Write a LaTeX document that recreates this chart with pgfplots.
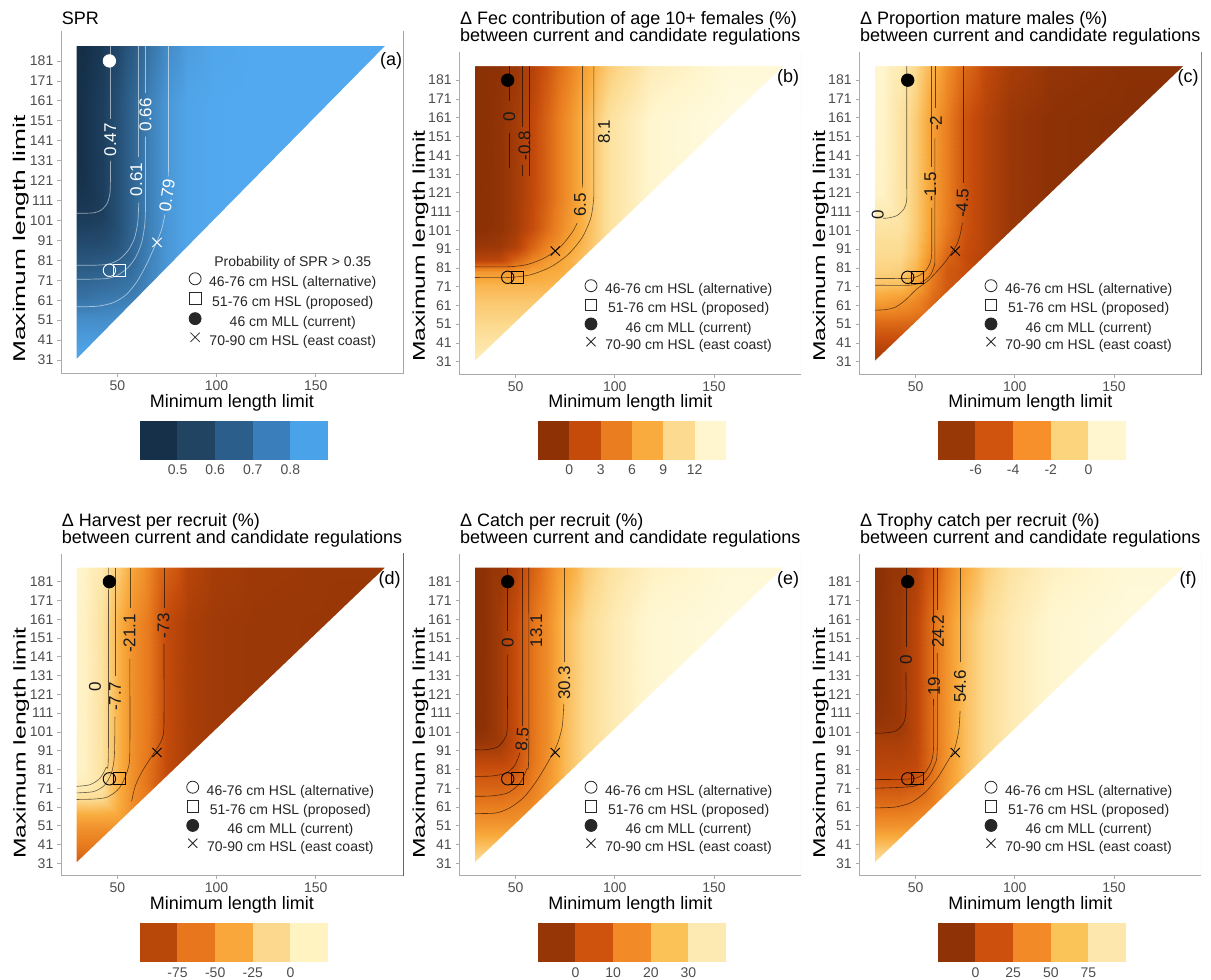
\documentclass[border=0pt]{standalone}
\usepackage{fontspec}
\setmainfont{Liberation Sans}
\usepackage{graphicx}
\usepackage{pgfplots}
\usepackage{pgfplotstable}
\pgfplotsset{compat=1.18}

\newcommand\tickfont{\fontsize{14}{16}\selectfont}
\newcommand\ttlfont{\fontsize{18}{20}\selectfont}
\newcommand\yfont{\fontsize{17}{19}\selectfont}
\newcommand\clabfont{\fontsize{17}{19}\selectfont}
\newcommand\legfont{\fontsize{14}{16}\selectfont}

\definecolor{axgray}{HTML}{ABABAB}
\definecolor{tickgray}{HTML}{4D4D4D}
\definecolor{cA1}{HTML}{17304A}\definecolor{cA2}{HTML}{214462}\definecolor{cA3}{HTML}{2C5E8B}\definecolor{cA4}{HTML}{3A7EBB}\definecolor{cA5}{HTML}{4AA2E8}
\definecolor{cB1}{HTML}{8E3206}\definecolor{cB2}{HTML}{C54B0B}\definecolor{cB3}{HTML}{E97D1F}\definecolor{cB4}{HTML}{F9AB3D}\definecolor{cB5}{HTML}{FCDB91}\definecolor{cB6}{HTML}{FFF6CF}
\definecolor{cC1}{HTML}{983806}\definecolor{cC2}{HTML}{D0540E}\definecolor{cC3}{HTML}{F7902A}\definecolor{cC4}{HTML}{FCD47E}\definecolor{cC5}{HTML}{FFF6CF}
\definecolor{cD1}{HTML}{B8470A}\definecolor{cD2}{HTML}{E8761C}\definecolor{cD3}{HTML}{F9A63B}\definecolor{cD4}{HTML}{FCD88E}\definecolor{cD5}{HTML}{FFF3C2}
\definecolor{cE1}{HTML}{963607}\definecolor{cE2}{HTML}{CF520D}\definecolor{cE3}{HTML}{F28B27}\definecolor{cE4}{HTML}{FBC257}\definecolor{cE5}{HTML}{FDE9B2}
\definecolor{cF1}{HTML}{8F3306}\definecolor{cF2}{HTML}{CD500D}\definecolor{cF3}{HTML}{F28A28}\definecolor{cF4}{HTML}{FBC459}\definecolor{cF5}{HTML}{FDE7AD}

\pgfplotsset{
 colormap={sprmap}{rgb255=(19,43,67) rgb255=(84,172,243)},
 colormap={ylorbr}{rgb255(0cm)=(125,42,5) rgb255(1cm)=(142,50,6) rgb255(3cm)=(197,75,11) rgb255(5cm)=(233,125,31) rgb255(7cm)=(249,171,61) rgb255(9cm)=(252,219,145) rgb255(11cm)=(255,246,207) rgb255(12cm)=(255,251,225)},
 panel/.style={
  anchor=south west, scale only axis, width=342pt, height=322pt,
  xmin=21.6, xmax=194, ymin=24.5, ymax=196,
  axis lines*=left, axis on top,
  axis line style={draw=axgray, line width=0.7pt},
  tick align=outside, major tick length=3.5pt,
  tick style={draw=axgray, line width=0.7pt},
  xtick={50,100,150}, ytick={31,41,...,181},
  /pgf/number format/assume math mode=true,
  ticklabel style={font=\tickfont, text=tickgray},
  xticklabel style={anchor=north, inner sep=0pt, yshift=-4pt},
  yticklabel style={anchor=east, inner sep=0pt, xshift=-4pt},
  legend cell align=center,
  legend image code/.code={\draw[##1] plot coordinates {(0pt,3.8pt)};},
  legend style={draw=none, fill=none, font=\legfont, row sep=3.6pt, column sep=8pt, inner sep=0pt, nodes={inner sep=0pt, text=black!85, font=\legfont}, anchor=north west, at={(axis description cs:0.367,0.2935)}},
 },
 legsym/.style={only marks, black!85, mark size=6pt, line width=0.8pt},
 cl/.style={smooth, tension=0.45, draw=black, draw opacity=0.6, line width=0.6pt, forget plot, mark=none},
 clw/.style={smooth, tension=0.45, draw=white, draw opacity=0.55, line width=0.7pt, forget plot, mark=none},
 heat/.style={matrix plot*, shader=interp, mesh/cols=11, point meta=explicit, forget plot},
 mask/.style={fill=white, draw=none, forget plot},
 mk/.style={only marks, forget plot, line width=0.9pt},
 cbar/.style={anchor=south west, scale only axis, width=188pt, xmin=0, ymin=0, ymax=1, axis y line=none, axis x line*=bottom, x axis line style={draw=none}, major tick length=0pt, tick style={draw=none}, xticklabel style={font=\tickfont, text=tickgray, anchor=north, inner sep=0pt, yshift=-5.5pt}},
}
\tikzset{clab/.style={font=\clabfont, inner sep=0pt, text=black!90}, plab/.style={font=\ttlfont, inner sep=0pt}}

\newcommand\legentries{%
\addlegendimage{legsym, mark=o}\addlegendentry{46-76 cm HSL (alternative)}
\addlegendimage{legsym, mark=square, mark size=5.8pt}\addlegendentry{51-76 cm HSL (proposed)}
\addlegendimage{legsym, mark=*}\addlegendentry{46 cm MLL (current)}
\addlegendimage{legsym, mark=x, mark size=6.5pt}\addlegendentry{70-90 cm HSL (east coast)}}
\newcommand\markers[1]{%
\addplot[mk, #1, mark=*, mark size=6.2pt] coordinates {(46,181)};
\addplot[mk, #1, mark=o, mark size=6.2pt] coordinates {(46,76)};
\addplot[mk, #1, mark=square, mark size=6pt] coordinates {(51,76)};
\addplot[mk, #1, mark=x, mark size=6.5pt] coordinates {(70,90)};}
% white everywhere outside the triangle of candidate regulations
\newcommand\maskplot{\addplot[mask] coordinates {(20,23) (20,198) (196,198) (196,23) (29.5,23) (29.5,31.5) (185,188.5) (29.5,188.5) (29.5,31.5) (29.5,23)} -- cycle;}

\pgfplotstableread[row sep=\\]{
x y v\\
29.5 30.5 0.89\\ 38 30.5 0.89\\ 46 30.5 0.89\\ 54 30.5 0.89\\ 62 30.5 0.89\\ 70 30.5 0.89\\ 80 30.5 0.89\\ 90 30.5 0.89\\ 105 30.5 0.89\\ 130 30.5 0.89\\ 186.5 30.5 0.89\\
29.5 45 0.86\\ 38 45 0.86\\ 46 45 0.86\\ 54 45 0.86\\ 62 45 0.86\\ 70 45 0.86\\ 80 45 0.86\\ 90 45 0.87\\ 105 45 0.885\\ 130 45 0.89\\ 186.5 45 0.89\\
29.5 58 0.78\\ 38 58 0.78\\ 46 58 0.78\\ 54 58 0.79\\ 62 58 0.81\\ 70 58 0.83\\ 80 58 0.84\\ 90 58 0.87\\ 105 58 0.885\\ 130 58 0.89\\ 186.5 58 0.89\\
29.5 68 0.67\\ 38 68 0.67\\ 46 68 0.69\\ 54 68 0.70\\ 62 68 0.72\\ 70 68 0.77\\ 80 68 0.82\\ 90 68 0.87\\ 105 68 0.885\\ 130 68 0.89\\ 186.5 68 0.89\\
29.5 76 0.62\\ 38 76 0.62\\ 46 76 0.63\\ 54 76 0.65\\ 62 76 0.68\\ 70 76 0.75\\ 80 76 0.82\\ 90 76 0.87\\ 105 76 0.885\\ 130 76 0.89\\ 186.5 76 0.89\\
29.5 84 0.57\\ 38 84 0.57\\ 46 84 0.58\\ 54 84 0.60\\ 62 84 0.65\\ 70 84 0.74\\ 80 84 0.82\\ 90 84 0.87\\ 105 84 0.885\\ 130 84 0.89\\ 186.5 84 0.89\\
29.5 92 0.53\\ 38 92 0.53\\ 46 92 0.53\\ 54 92 0.56\\ 62 92 0.64\\ 70 92 0.73\\ 80 92 0.82\\ 90 92 0.87\\ 105 92 0.885\\ 130 92 0.89\\ 186.5 92 0.89\\
29.5 100 0.49\\ 38 100 0.49\\ 46 100 0.50\\ 54 100 0.54\\ 62 100 0.63\\ 70 100 0.73\\ 80 100 0.82\\ 90 100 0.87\\ 105 100 0.885\\ 130 100 0.89\\ 186.5 100 0.89\\
29.5 110 0.455\\ 38 110 0.455\\ 46 110 0.47\\ 54 110 0.54\\ 62 110 0.63\\ 70 110 0.73\\ 80 110 0.82\\ 90 110 0.87\\ 105 110 0.885\\ 130 110 0.89\\ 186.5 110 0.89\\
29.5 130 0.42\\ 38 130 0.43\\ 46 130 0.47\\ 54 130 0.54\\ 62 130 0.63\\ 70 130 0.73\\ 80 130 0.82\\ 90 130 0.87\\ 105 130 0.885\\ 130 130 0.89\\ 186.5 130 0.89\\
29.5 188.5 0.40\\ 38 188.5 0.43\\ 46 188.5 0.47\\ 54 188.5 0.54\\ 62 188.5 0.63\\ 70 188.5 0.73\\ 80 188.5 0.82\\ 90 188.5 0.87\\ 105 188.5 0.885\\ 130 188.5 0.89\\ 186.5 188.5 0.89\\
}\tabA

\pgfplotstableread[row sep=\\]{
x y v\\
29.5 30.5 13.5\\ 38 30.5 13.5\\ 46 30.5 13.5\\ 54 30.5 13.5\\ 62 30.5 13.5\\ 70 30.5 13.5\\ 80 30.5 13.5\\ 90 30.5 13.5\\ 105 30.5 13.5\\ 130 30.5 13.5\\ 186.5 30.5 15\\
29.5 45 11.8\\ 38 45 11.8\\ 46 45 11.8\\ 54 45 11.8\\ 62 45 11.8\\ 70 45 11.8\\ 80 45 11.8\\ 90 45 11.8\\ 105 45 11.8\\ 130 45 13.5\\ 186.5 45 15\\
29.5 58 10.3\\ 38 58 10.3\\ 46 58 10.3\\ 54 58 10.3\\ 62 58 10.3\\ 70 58 10.3\\ 80 58 10.3\\ 90 58 10.3\\ 105 58 11.2\\ 130 58 13.5\\ 186.5 58 15\\
29.5 68 9.3\\ 38 68 9.3\\ 46 68 9.3\\ 54 68 9.3\\ 62 68 9.3\\ 70 68 9.3\\ 80 68 9.3\\ 90 68 9.3\\ 105 68 11.2\\ 130 68 13.5\\ 186.5 68 15\\
29.5 76 8.1\\ 38 76 8.1\\ 46 76 8.1\\ 54 76 8.1\\ 62 76 8.1\\ 70 76 8.1\\ 80 76 8.1\\ 90 76 8.5\\ 105 76 11.2\\ 130 76 13.5\\ 186.5 76 15\\
29.5 82 6.3\\ 38 82 6.3\\ 46 82 6.3\\ 54 82 6.5\\ 62 82 7.0\\ 70 82 7.5\\ 80 82 7.8\\ 90 82 8.6\\ 105 82 11.2\\ 130 82 13.5\\ 186.5 82 15\\
29.5 88 0.8\\ 38 88 0.8\\ 46 88 1.0\\ 54 88 3.0\\ 62 88 5.0\\ 70 88 6.3\\ 80 88 7.5\\ 90 88 9.0\\ 105 88 11.2\\ 130 88 13.5\\ 186.5 88 15\\
29.5 96 -0.8\\ 38 96 -0.8\\ 46 96 -0.6\\ 54 96 0.5\\ 62 96 3.0\\ 70 96 5.0\\ 80 96 6.8\\ 90 96 8.5\\ 105 96 11.2\\ 130 96 13.5\\ 186.5 96 15\\
29.5 108 -1.8\\ 38 108 -1.7\\ 46 108 -1.3\\ 54 108 -0.3\\ 62 108 1.5\\ 70 108 3.5\\ 80 108 6.0\\ 90 108 8.2\\ 105 108 11.2\\ 130 108 13.5\\ 186.5 108 15\\
29.5 130 -1.8\\ 38 130 -1.7\\ 46 130 -1.3\\ 54 130 -0.3\\ 62 130 1.2\\ 70 130 3.0\\ 80 130 5.4\\ 90 130 8.1\\ 105 130 11.2\\ 130 130 13.5\\ 186.5 130 15\\
29.5 188.5 -1.8\\ 38 188.5 -1.7\\ 46 188.5 -1.3\\ 54 188.5 -0.3\\ 62 188.5 1.2\\ 70 188.5 3.0\\ 80 188.5 5.4\\ 90 188.5 8.1\\ 105 188.5 11.2\\ 130 188.5 13.5\\ 186.5 188.5 15\\
}\tabB

\pgfplotstableread[row sep=\\]{
x y v\\
29.5 30.5 -7\\ 38 30.5 -7\\ 46 30.5 -7\\ 54 30.5 -7\\ 62 30.5 -7\\ 70 30.5 -7\\ 80 30.5 -7\\ 90 30.5 -7\\ 105 30.5 -7\\ 130 30.5 -7.2\\ 186.5 30.5 -7.4\\
29.5 45 -6\\ 38 45 -6\\ 46 45 -6\\ 54 45 -6\\ 62 45 -6\\ 70 45 -6\\ 80 45 -6\\ 90 45 -6\\ 105 45 -6.8\\ 130 45 -7.2\\ 186.5 45 -7.4\\
29.5 58 -4.5\\ 38 58 -4.5\\ 46 58 -4.5\\ 54 58 -4.6\\ 62 58 -4.8\\ 70 58 -5.2\\ 80 58 -5.4\\ 90 58 -6\\ 105 58 -6.8\\ 130 58 -7.2\\ 186.5 58 -7.4\\
29.5 68 -2.7\\ 38 68 -2.7\\ 46 68 -3.0\\ 54 68 -3.5\\ 62 68 -4.5\\ 70 68 -5.2\\ 80 68 -5.5\\ 90 68 -6\\ 105 68 -6.8\\ 130 68 -7.2\\ 186.5 68 -7.4\\
29.5 76 -1.4\\ 38 76 -1.4\\ 46 76 -1.5\\ 54 76 -2.5\\ 62 76 -4.0\\ 70 76 -5.0\\ 80 76 -5.4\\ 90 76 -6\\ 105 76 -6.8\\ 130 76 -7.2\\ 186.5 76 -7.4\\
29.5 84 -0.8\\ 38 84 -0.8\\ 46 84 -0.9\\ 54 84 -1.9\\ 62 84 -3.8\\ 70 84 -5.0\\ 80 84 -5.4\\ 90 84 -6\\ 105 84 -6.8\\ 130 84 -7.2\\ 186.5 84 -7.4\\
29.5 92 -0.5\\ 38 92 -0.5\\ 46 92 -0.5\\ 54 92 -1.4\\ 62 92 -3.2\\ 70 92 -4.6\\ 80 92 -5.5\\ 90 92 -6\\ 105 92 -6.8\\ 130 92 -7.2\\ 186.5 92 -7.4\\
29.5 100 -0.3\\ 38 100 -0.3\\ 46 100 -0.3\\ 54 100 -1.2\\ 62 100 -2.8\\ 70 100 -4.2\\ 80 100 -5.3\\ 90 100 -6\\ 105 100 -6.8\\ 130 100 -7.2\\ 186.5 100 -7.4\\
29.5 110 0.1\\ 38 110 0.1\\ 46 110 0.0\\ 54 110 -1.1\\ 62 110 -2.6\\ 70 110 -3.9\\ 80 110 -5.2\\ 90 110 -6\\ 105 110 -6.8\\ 130 110 -7.2\\ 186.5 110 -7.4\\
29.5 130 0.9\\ 38 130 0.9\\ 46 130 0.0\\ 54 130 -1.1\\ 62 130 -2.6\\ 70 130 -3.8\\ 80 130 -5.2\\ 90 130 -6\\ 105 130 -6.8\\ 130 130 -7.2\\ 186.5 130 -7.4\\
29.5 188.5 1.2\\ 38 188.5 1.0\\ 46 188.5 0.0\\ 54 188.5 -1.1\\ 62 188.5 -2.6\\ 70 188.5 -3.8\\ 80 188.5 -5.2\\ 90 188.5 -6\\ 105 188.5 -6.8\\ 130 188.5 -7.2\\ 186.5 188.5 -7.4\\
}\tabC

\pgfplotstableread[row sep=\\]{
x y v\\
29.5 30.5 -90\\ 38 30.5 -90\\ 46 30.5 -90\\ 54 30.5 -90\\ 62 30.5 -90\\ 70 30.5 -90\\ 80 30.5 -90\\ 90 30.5 -95\\ 105 30.5 -100\\ 130 30.5 -102\\ 186.5 30.5 -103\\
29.5 45 -65\\ 38 45 -65\\ 46 45 -65\\ 54 45 -65\\ 62 45 -65\\ 70 45 -65\\ 80 45 -85\\ 90 45 -95\\ 105 45 -100\\ 130 45 -102\\ 186.5 45 -103\\
29.5 54 -50\\ 38 54 -50\\ 46 54 -50\\ 54 54 -50\\ 62 54 -52\\ 70 54 -64\\ 80 54 -85\\ 90 54 -95\\ 105 54 -100\\ 130 54 -102\\ 186.5 54 -103\\
29.5 62 -33\\ 38 62 -33\\ 46 62 -33\\ 54 62 -36\\ 62 62 -52\\ 70 62 -64\\ 80 62 -85\\ 90 62 -95\\ 105 62 -100\\ 130 62 -102\\ 186.5 62 -103\\
29.5 68 -10\\ 38 68 -10\\ 46 68 -12\\ 54 68 -32\\ 62 68 -52\\ 70 68 -64\\ 80 68 -85\\ 90 68 -95\\ 105 68 -100\\ 130 68 -102\\ 186.5 68 -103\\
29.5 72 0\\ 38 72 0\\ 46 72 -6\\ 54 72 -32\\ 62 72 -51\\ 70 72 -64\\ 80 72 -85\\ 90 72 -95\\ 105 72 -100\\ 130 72 -102\\ 186.5 72 -103\\
29.5 76 5\\ 38 76 5\\ 46 76 -5\\ 54 76 -31\\ 62 76 -51\\ 70 76 -66\\ 80 76 -85\\ 90 76 -95\\ 105 76 -100\\ 130 76 -102\\ 186.5 76 -103\\
29.5 84 9\\ 38 84 8\\ 46 84 -5\\ 54 84 -30\\ 62 84 -50\\ 70 84 -65\\ 80 84 -85\\ 90 84 -95\\ 105 84 -100\\ 130 84 -102\\ 186.5 84 -103\\
29.5 100 11\\ 38 100 8\\ 46 100 -5\\ 54 100 -30\\ 62 100 -50\\ 70 100 -63\\ 80 100 -85\\ 90 100 -95\\ 105 100 -100\\ 130 100 -102\\ 186.5 100 -103\\
29.5 130 12\\ 38 130 8\\ 46 130 -5\\ 54 130 -30\\ 62 130 -50\\ 70 130 -62\\ 80 130 -85\\ 90 130 -95\\ 105 130 -100\\ 130 130 -102\\ 186.5 130 -103\\
29.5 188.5 12\\ 38 188.5 8\\ 46 188.5 -5\\ 54 188.5 -30\\ 62 188.5 -50\\ 70 188.5 -62\\ 80 188.5 -85\\ 90 188.5 -95\\ 105 188.5 -100\\ 130 188.5 -102\\ 186.5 188.5 -103\\
}\tabD

\pgfplotstableread[row sep=\\]{
x y v\\
29.5 30.5 38\\ 38 30.5 38\\ 46 30.5 38\\ 54 30.5 38\\ 62 30.5 38\\ 70 30.5 38\\ 80 30.5 38\\ 90 30.5 38\\ 105 30.5 38\\ 130 30.5 41\\ 186.5 30.5 44\\
29.5 45 28\\ 38 45 28\\ 46 45 28\\ 54 45 28\\ 62 45 28\\ 70 45 28\\ 80 45 28\\ 90 45 31\\ 105 45 36\\ 130 45 41\\ 186.5 45 44\\
29.5 58 18\\ 38 58 18\\ 46 58 18\\ 54 58 18\\ 62 58 19\\ 70 58 21\\ 80 58 26\\ 90 58 31\\ 105 58 36\\ 130 58 41\\ 186.5 58 44\\
29.5 68 12\\ 38 68 12\\ 46 68 12\\ 54 68 13\\ 62 68 15\\ 70 68 19\\ 80 68 25\\ 90 68 31\\ 105 68 36\\ 130 68 41\\ 186.5 68 44\\
29.5 76 8\\ 38 76 8\\ 46 76 8\\ 54 76 9.5\\ 62 76 13\\ 70 76 18\\ 80 76 25\\ 90 76 31\\ 105 76 36\\ 130 76 41\\ 186.5 76 44\\
29.5 84 5\\ 38 84 5\\ 46 84 5\\ 54 84 6\\ 62 84 12\\ 70 84 17\\ 80 84 25\\ 90 84 31\\ 105 84 36\\ 130 84 41\\ 186.5 84 44\\
29.5 92 1\\ 38 92 1\\ 46 92 1\\ 54 92 4.5\\ 62 92 11\\ 70 92 16.5\\ 80 92 25\\ 90 92 31\\ 105 92 36\\ 130 92 41\\ 186.5 92 44\\
29.5 100 -4\\ 38 100 -4\\ 46 100 -2\\ 54 100 4\\ 62 100 11\\ 70 100 16\\ 80 100 25\\ 90 100 31\\ 105 100 36\\ 130 100 41\\ 186.5 100 44\\
29.5 110 -6\\ 38 110 -6\\ 46 110 -2\\ 54 110 4\\ 62 110 11\\ 70 110 16\\ 80 110 25\\ 90 110 31\\ 105 110 36\\ 130 110 41\\ 186.5 110 44\\
29.5 130 -6\\ 38 130 -6\\ 46 130 -2\\ 54 130 4\\ 62 130 11\\ 70 130 16\\ 80 130 25\\ 90 130 31\\ 105 130 36\\ 130 130 41\\ 186.5 130 44\\
29.5 188.5 -6\\ 38 188.5 -6\\ 46 188.5 -2\\ 54 188.5 4\\ 62 188.5 11\\ 70 188.5 16\\ 80 188.5 25\\ 90 188.5 31\\ 105 188.5 36\\ 130 188.5 41\\ 186.5 188.5 44\\
}\tabE

\pgfplotstableread[row sep=\\]{
x y v\\
29.5 30.5 95\\ 38 30.5 95\\ 46 30.5 95\\ 54 30.5 95\\ 62 30.5 95\\ 70 30.5 95\\ 80 30.5 95\\ 90 30.5 95\\ 105 30.5 95\\ 130 30.5 101\\ 186.5 30.5 109\\
29.5 45 71\\ 38 45 71\\ 46 45 71\\ 54 45 71\\ 62 45 71\\ 70 45 71\\ 80 45 71\\ 90 45 78\\ 105 45 90\\ 130 45 101\\ 186.5 45 109\\
29.5 58 42\\ 38 58 42\\ 46 58 42\\ 54 58 43\\ 62 58 46\\ 70 58 50\\ 80 58 64\\ 90 58 78\\ 105 58 90\\ 130 58 101\\ 186.5 58 109\\
29.5 68 24\\ 38 68 24\\ 46 68 24\\ 54 68 28\\ 62 68 33\\ 70 68 47\\ 80 68 64\\ 90 68 78\\ 105 68 90\\ 130 68 101\\ 186.5 68 109\\
29.5 76 14\\ 38 76 14\\ 46 76 14\\ 54 76 17\\ 62 76 30\\ 70 76 47\\ 80 76 64\\ 90 76 78\\ 105 76 90\\ 130 76 101\\ 186.5 76 109\\
29.5 84 6\\ 38 84 6\\ 46 84 7\\ 54 84 9\\ 62 84 27\\ 70 84 45\\ 80 84 64\\ 90 84 78\\ 105 84 90\\ 130 84 101\\ 186.5 84 109\\
29.5 92 2\\ 38 92 2\\ 46 92 2\\ 54 92 6\\ 62 92 26\\ 70 92 44\\ 80 92 64\\ 90 92 78\\ 105 92 90\\ 130 92 101\\ 186.5 92 109\\
29.5 100 -2\\ 38 100 -2\\ 46 100 -2\\ 54 100 5\\ 62 100 26\\ 70 100 44\\ 80 100 64\\ 90 100 78\\ 105 100 90\\ 130 100 101\\ 186.5 100 109\\
29.5 110 -10\\ 38 110 -10\\ 46 110 -7\\ 54 110 5\\ 62 110 26\\ 70 110 44\\ 80 110 64\\ 90 110 78\\ 105 110 90\\ 130 110 101\\ 186.5 110 109\\
29.5 130 -14\\ 38 130 -13\\ 46 130 -7\\ 54 130 5\\ 62 130 26\\ 70 130 44\\ 80 130 64\\ 90 130 78\\ 105 130 90\\ 130 130 101\\ 186.5 130 109\\
29.5 188.5 -14\\ 38 188.5 -13\\ 46 188.5 -7\\ 54 188.5 5\\ 62 188.5 26\\ 70 188.5 44\\ 80 188.5 64\\ 90 188.5 78\\ 105 188.5 90\\ 130 188.5 101\\ 186.5 188.5 109\\
}\tabF

\begin{document}
\begin{tikzpicture}
\useasboundingbox (0pt,0pt) rectangle (1211pt,-980pt);

%% ---------------- Panel (a)
\begin{axis}[panel, at={(61pt,-373pt)}, height=342pt, colormap name=sprmap, point meta min=0.4, point meta max=0.9, legend style={row sep=4.4pt, at={(axis description cs:0.374,0.3405)}}]
\addplot[heat] table[x=x,y=y,meta=v]{\tabA};
\maskplot
\addplot[clw] coordinates {(29.5,104.6) (38,104.8) (42,106.3) (44.8,109.5) (46.2,114) (46.5,120) (46.5,131)};
\addplot[clw] coordinates {(46.5,152) (46.5,188.5)};
\addplot[clw] coordinates {(29.5,78.5) (40,78.6) (46,79.2) (51,81.5) (55.5,86) (58.6,92) (60.3,100) (60.8,110)};
\addplot[clw] coordinates {(60.8,133) (60.8,188.5)};
\addplot[clw] coordinates {(29.5,71.5) (44,71.8) (50,73.5) (55.5,77.5) (59.5,83) (62.3,90) (63.7,98) (64.2,108) (64.2,143)};
\addplot[clw] coordinates {(64.2,165) (64.2,188.5)};
\addplot[clw] coordinates {(29.5,57.7) (40,58) (48,59.8) (54.5,63.8) (60,70.5) (64.5,78.5) (67.5,85) (70,90.5) (72.5,97) (74,104)};
\addplot[clw] coordinates {(75.7,123) (75.8,135) (75.8,188.5)};
\node[clab, text=white, rotate=90] at (axis cs:46.5,141.5) {0.47};
\node[clab, text=white, rotate=90] at (axis cs:59.6,121.5) {0.61};
\node[clab, text=white, rotate=90] at (axis cs:64.2,154) {0.66};
\node[clab, text=white, rotate=82] at (axis cs:75.1,113.5) {0.79};
\markers{white}
\node[plab] at (axis cs:188,181) {(a)};
\addlegendimage{empty legend}\addlegendentry{Probability of SPR > 0.35}
\legentries
\end{axis}

%% ---------------- Panel (b)
\begin{axis}[panel, at={(459.3pt,-374pt)}, colormap name=ylorbr, point meta min=-3, point meta max=15]
\addplot[heat] table[x=x,y=y,meta=v]{\tabB};
\maskplot
\addplot[cl] coordinates {(46.6,188.5) (46.6,170)};
\addplot[cl] coordinates {(46.6,153) (46.6,134)};
\node[clab, rotate=90] at (axis cs:46.8,161.5) {0};
\addplot[cl] coordinates {(53.5,188.5) (53.5,156)};
\addplot[cl] coordinates {(53.5,136) (53.5,130)};
\addplot[cl] coordinates {(57,188.5) (57,130)};
\node[clab, rotate=90] at (axis cs:54.5,146) {-0.8};
\addplot[cl] coordinates {(29.5,81.6) (46.4,81.6) (56.05,82.87) (65.05,86.6) (72.8,92.5) (78.7,100.25) (80.98,104.9)};
\addplot[cl] coordinates {(83.6,124) (83.7,130) (83.7,188.5)};
\node[clab, rotate=90] at (axis cs:82.4,114.5) {6.5};
\addplot[cl] coordinates {(29.5,75.9) (46.4,75.9) (57.53,77.37) (67.9,81.66) (76.8,88.5) (83.64,97.4) (87.93,107.77) (89.4,118.9) (89.4,130) (89.4,188.5)};
\node[clab, rotate=90] at (axis cs:94.5,153.5) {8.1};
\markers{black}
\node[plab] at (axis cs:187.3,182) {(b)};
\legentries
\end{axis}

%% ---------------- Panel (c)
\begin{axis}[panel, at={(859.3pt,-374pt)}, colormap name=ylorbr, point meta min=-8, point meta max=2]
\addplot[heat] table[x=x,y=y,meta=v]{\tabC};
\maskplot
\addplot[cl] coordinates {(33.5,107.5) (35.5,107.5) (40.5,108.84) (44.16,112.5) (45.5,117.5) (45.5,130) (45.5,188.5)};
\node[clab, rotate=90] at (axis cs:30.9,109.5) {0};
\addplot[cl] coordinates {(29.5,75.4) (46,75.4) (51,76.5) (55,79.5) (57.4,84) (58.1,90) (58.1,113)};
\addplot[cl] coordinates {(58.1,135) (58.1,188.5)};
\node[clab, rotate=90] at (axis cs:57.4,124) {-1.5};
\addplot[cl] coordinates {(29.5,71.8) (47,71.8) (53,73.3) (57.3,77) (59.3,82) (59.7,88) (59.7,150)};
\addplot[cl] coordinates {(59.7,166) (59.7,188.5)};
\node[clab, rotate=90] at (axis cs:60.2,158) {-2};
\addplot[cl] coordinates {(74,188.5) (74,126)};
\addplot[cl] coordinates {(73.6,105) (72.5,99) (71,94) (69,90.5) (65.5,85) (61.5,80) (56,74) (50.5,69.7) (45,64) (40,60.2) (35,58.8) (29.5,58.5)};
\node[clab, rotate=88] at (axis cs:73.6,115.5) {-4.5};
\markers{black}
\node[plab] at (axis cs:187.3,182) {(c)};
\legentries
\end{axis}

%% ---------------- Panel (d)
\begin{axis}[panel, at={(61pt,-875.5pt)}, colormap name=ylorbr, point meta min=-120, point meta max=25]
\addplot[heat] table[x=x,y=y,meta=v]{\tabD};
\maskplot
\addplot[cl] coordinates {(45.5,188.5) (45.5,90) (44.3,82) (41,76) (36,72.8) (29.5,72)};
\node[clab, rotate=90] at (axis cs:38.7,125) {0};
\addplot[cl] coordinates {(48.8,188.5) (48.8,131)};
\addplot[cl] coordinates {(48.8,109) (48.5,88) (47,79) (43.5,72.5) (38,69.2) (29.5,68.5)};
\node[clab, rotate=90] at (axis cs:48.8,120) {-7.7};
\addplot[cl] coordinates {(56.3,188.5) (56.3,167)};
\addplot[cl] coordinates {(56.3,140) (56.3,90) (55,80) (51,71) (45,66.3) (38,65.2) (29.5,65)};
\node[clab, rotate=90] at (axis cs:56.1,153.5) {-21.1};
\addplot[cl] coordinates {(73.5,188.5) (73.5,167)};
\addplot[cl] coordinates {(73.5,148) (73.5,105) (72.5,97) (69,90.6) (65.5,85) (62,79) (59,72) (57.2,64)};
\node[clab, rotate=90] at (axis cs:73.3,157.5) {-73};
\markers{black}
\node[plab] at (axis cs:187.3,182) {(d)};
\legentries
\end{axis}

%% ---------------- Panel (e)
\begin{axis}[panel, at={(459.3pt,-875.5pt)}, colormap name=ylorbr, point meta min=-10, point meta max=45]
\addplot[heat] table[x=x,y=y,meta=v]{\tabE};
\maskplot
\addplot[cl] coordinates {(45.8,188.5) (45.8,155)};
\addplot[cl] coordinates {(45.8,142) (45.8,104) (44.5,97.5) (41,93) (35,91.5) (29.5,91.5)};
\node[clab, rotate=90] at (axis cs:46,148.5) {0};
\addplot[cl] coordinates {(53.3,188.5) (53.3,104)};
\addplot[cl] coordinates {(52.2,90) (49.5,83) (45,79) (38,77.5) (29.5,77.3)};
\node[clab, rotate=85] at (axis cs:53.2,97) {8.5};
\addplot[cl] coordinates {(56.6,188.5) (56.6,90) (55.5,81) (52,73.5) (46,68.5) (38,66.9) (29.5,66.7)};
\node[clab, rotate=90] at (axis cs:60.4,155) {13.1};
\addplot[cl] coordinates {(74.3,188.5) (74.3,138)};
\addplot[cl] coordinates {(74.3,116) (73.5,104) (71.5,96) (69.5,91) (65,82.5) (60,74) (54,66) (47,60.5) (40,57.8) (29.5,57.5)};
\node[clab, rotate=90] at (axis cs:74.5,127) {30.3};
\markers{black}
\node[plab] at (axis cs:187.3,182) {(e)};
\legentries
\end{axis}

%% ---------------- Panel (f)
\begin{axis}[panel, at={(859.3pt,-875.5pt)}, colormap name=ylorbr, point meta min=-25, point meta max=112]
\addplot[heat] table[x=x,y=y,meta=v]{\tabF};
\maskplot
\addplot[cl] coordinates {(45.1,188.5) (45.1,146)};
\addplot[cl] coordinates {(45.1,133) (45.1,112) (43.8,105.5) (40,101.5) (34,100.4) (29.5,100.4)};
\node[clab, rotate=90] at (axis cs:45.1,139.5) {0};
\addplot[cl] coordinates {(59,188.5) (59,132)};
\addplot[cl] coordinates {(59,118.5) (59,92) (57.5,84) (54,78.5) (48,76) (29.5,75.6)};
\node[clab, rotate=90] at (axis cs:59.2,125.2) {19};
\addplot[cl] coordinates {(60.9,188.5) (60.9,166)};
\addplot[cl] coordinates {(60.9,143) (60.9,92) (59.4,83) (55.5,76) (49,72) (29.5,71)};
\node[clab, rotate=90] at (axis cs:61.3,154.5) {24.2};
\addplot[cl] coordinates {(72.4,188.5) (72.4,138)};
\addplot[cl] coordinates {(72.4,112) (71.8,102) (70.2,94) (69,90.5) (66,85) (61,76.5) (55,69) (48,63.5) (40,61) (29.5,60.5)};
\node[clab, rotate=90] at (axis cs:72.4,125.2) {54.6};
\markers{black}
\node[plab] at (axis cs:187.3,182) {(f)};
\legentries
\end{axis}

%% ---------------- Colour bars
\begin{axis}[cbar, at={(140pt,-459.3pt)}, height=38.6pt, xmax=5, xtick={1,2,3,4}, xticklabels={0.5,0.6,0.7,0.8}]
\addplot[fill=cA1, draw=cA1, line width=0.3pt] coordinates {(0,1) (1,1)} \closedcycle;
\addplot[fill=cA2, draw=cA2, line width=0.3pt] coordinates {(1,1) (2,1)} \closedcycle;
\addplot[fill=cA3, draw=cA3, line width=0.3pt] coordinates {(2,1) (3,1)} \closedcycle;
\addplot[fill=cA4, draw=cA4, line width=0.3pt] coordinates {(3,1) (4,1)} \closedcycle;
\addplot[fill=cA5, draw=cA5, line width=0.3pt] coordinates {(4,1) (5,1)} \closedcycle;
\end{axis}
\begin{axis}[cbar, at={(538pt,-459.3pt)}, height=38.6pt, xmax=6, xtick={1,2,3,4,5}, xticklabels={0,3,6,9,12}]
\addplot[fill=cB1, draw=cB1, line width=0.3pt] coordinates {(0,1) (1,1)} \closedcycle;
\addplot[fill=cB2, draw=cB2, line width=0.3pt] coordinates {(1,1) (2,1)} \closedcycle;
\addplot[fill=cB3, draw=cB3, line width=0.3pt] coordinates {(2,1) (3,1)} \closedcycle;
\addplot[fill=cB4, draw=cB4, line width=0.3pt] coordinates {(3,1) (4,1)} \closedcycle;
\addplot[fill=cB5, draw=cB5, line width=0.3pt] coordinates {(4,1) (5,1)} \closedcycle;
\addplot[fill=cB6, draw=cB6, line width=0.3pt] coordinates {(5,1) (6,1)} \closedcycle;
\end{axis}
\begin{axis}[cbar, at={(938pt,-459.3pt)}, height=38.6pt, xmax=5, xtick={1,2,3,4}, xticklabels={-6,-4,-2,0}]
\addplot[fill=cC1, draw=cC1, line width=0.3pt] coordinates {(0,1) (1,1)} \closedcycle;
\addplot[fill=cC2, draw=cC2, line width=0.3pt] coordinates {(1,1) (2,1)} \closedcycle;
\addplot[fill=cC3, draw=cC3, line width=0.3pt] coordinates {(2,1) (3,1)} \closedcycle;
\addplot[fill=cC4, draw=cC4, line width=0.3pt] coordinates {(3,1) (4,1)} \closedcycle;
\addplot[fill=cC5, draw=cC5, line width=0.3pt] coordinates {(4,1) (5,1)} \closedcycle;
\end{axis}
\begin{axis}[cbar, at={(140pt,-961.7pt)}, height=39pt, xmax=5, xtick={1,2,3,4}, xticklabels={-75,-50,-25,0}]
\addplot[fill=cD1, draw=cD1, line width=0.3pt] coordinates {(0,1) (1,1)} \closedcycle;
\addplot[fill=cD2, draw=cD2, line width=0.3pt] coordinates {(1,1) (2,1)} \closedcycle;
\addplot[fill=cD3, draw=cD3, line width=0.3pt] coordinates {(2,1) (3,1)} \closedcycle;
\addplot[fill=cD4, draw=cD4, line width=0.3pt] coordinates {(3,1) (4,1)} \closedcycle;
\addplot[fill=cD5, draw=cD5, line width=0.3pt] coordinates {(4,1) (5,1)} \closedcycle;
\end{axis}
\begin{axis}[cbar, at={(538pt,-961.7pt)}, height=39pt, xmax=5, xtick={1,2,3,4}, xticklabels={0,10,20,30}]
\addplot[fill=cE1, draw=cE1, line width=0.3pt] coordinates {(0,1) (1,1)} \closedcycle;
\addplot[fill=cE2, draw=cE2, line width=0.3pt] coordinates {(1,1) (2,1)} \closedcycle;
\addplot[fill=cE3, draw=cE3, line width=0.3pt] coordinates {(2,1) (3,1)} \closedcycle;
\addplot[fill=cE4, draw=cE4, line width=0.3pt] coordinates {(3,1) (4,1)} \closedcycle;
\addplot[fill=cE5, draw=cE5, line width=0.3pt] coordinates {(4,1) (5,1)} \closedcycle;
\end{axis}
\begin{axis}[cbar, at={(938pt,-961.7pt)}, height=39pt, xmax=5, xtick={1,2,3,4}, xticklabels={0,25,50,75}]
\addplot[fill=cF1, draw=cF1, line width=0.3pt] coordinates {(0,1) (1,1)} \closedcycle;
\addplot[fill=cF2, draw=cF2, line width=0.3pt] coordinates {(1,1) (2,1)} \closedcycle;
\addplot[fill=cF3, draw=cF3, line width=0.3pt] coordinates {(2,1) (3,1)} \closedcycle;
\addplot[fill=cF4, draw=cF4, line width=0.3pt] coordinates {(3,1) (4,1)} \closedcycle;
\addplot[fill=cF5, draw=cF5, line width=0.3pt] coordinates {(4,1) (5,1)} \closedcycle;
\end{axis}

%% ---------------- Titles
\node[anchor=base west, plab] at (61.7pt,-24pt) {SPR};
\node[anchor=base west, plab] at (460pt,-24.5pt) {Δ Fec contribution of age 10+ females (\%)};
\node[anchor=base west, plab] at (460pt,-41pt) {between current and candidate regulations};
\node[anchor=base west, plab] at (860pt,-24.5pt) {Δ Proportion mature males (\%)};
\node[anchor=base west, plab] at (860pt,-41pt) {between current and candidate regulations};
\node[anchor=base west, plab] at (61.7pt,-526.5pt) {Δ Harvest per recruit (\%)};
\node[anchor=base west, plab] at (61.7pt,-543pt) {between current and candidate regulations};
\node[anchor=base west, plab] at (460pt,-526.5pt) {Δ Catch per recruit (\%)};
\node[anchor=base west, plab] at (460pt,-543pt) {between current and candidate regulations};
\node[anchor=base west, plab] at (860pt,-526.5pt) {Δ Trophy catch per recruit (\%)};
\node[anchor=base west, plab] at (860pt,-543pt) {between current and candidate regulations};

%% ---------------- Axis titles
\node[anchor=base, plab] at (232pt,-407pt) {Minimum length limit};
\node[anchor=base, plab] at (630.3pt,-407pt) {Minimum length limit};
\node[anchor=base, plab] at (1030.3pt,-407pt) {Minimum length limit};
\node[anchor=base, plab] at (232pt,-909pt) {Minimum length limit};
\node[anchor=base, plab] at (630.3pt,-909pt) {Minimum length limit};
\node[anchor=base, plab] at (1030.3pt,-909pt) {Minimum length limit};
\node[rotate=90, font=\yfont, inner sep=0pt] at (21.3pt,-239pt) {\scalebox{1.55}[1]{Maximum length limit}};
\node[rotate=90, font=\yfont, inner sep=0pt] at (420.6pt,-246pt) {\scalebox{1.45}[1]{Maximum length limit}};
\node[rotate=90, font=\yfont, inner sep=0pt] at (820.6pt,-246pt) {\scalebox{1.45}[1]{Maximum length limit}};
\node[rotate=90, font=\yfont, inner sep=0pt] at (21.3pt,-743pt) {\scalebox{1.45}[1]{Maximum length limit}};
\node[rotate=90, font=\yfont, inner sep=0pt] at (420.6pt,-743pt) {\scalebox{1.45}[1]{Maximum length limit}};
\node[rotate=90, font=\yfont, inner sep=0pt] at (820.6pt,-743pt) {\scalebox{1.45}[1]{Maximum length limit}};
\end{tikzpicture}
\end{document}
